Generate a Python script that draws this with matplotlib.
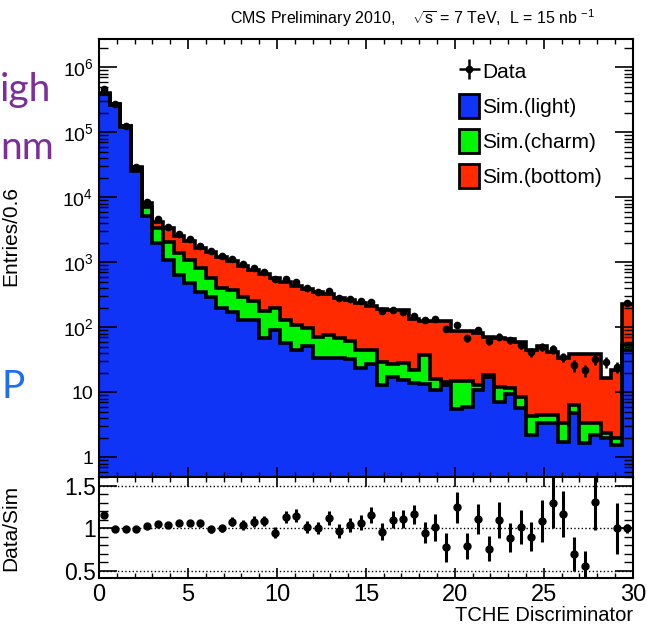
import numpy as np
import matplotlib
matplotlib.use("Agg")
import matplotlib.pyplot as plt
from matplotlib.patches import Patch
from matplotlib.ticker import FuncFormatter, MultipleLocator, LogLocator, NullFormatter

plt.rcParams['font.family'] = ['Liberation Sans', 'DejaVu Sans']
plt.rcParams['mathtext.fontset'] = 'custom'
plt.rcParams['mathtext.rm'] = 'Liberation Sans'
plt.rcParams['mathtext.it'] = 'Liberation Sans'

# 50 bins of width 0.6 from 0 to 30
edges = np.linspace(0, 30, 51)
centers = 0.5 * (edges[:-1] + edges[1:])

light = [3.85e5, 2.62e5, 1.2e5, 2.56e4, 5200, 1960, 1080, 640, 478, 355,
         297, 201, 170, 130, 130, 68, 92, 57, 45, 51,
         34, 34, 34, 32, 24, 27, 13, 17, 15.5, 14,
         13.5, 11, 13, 5.5, 6, 11, 17, 7, 9.5, 5.7,
         2.2, 3.4, 3.4, 1.7, 4.8, 1.66, 2.2, 2.0, 1.57, 45]
charm = [8e3, 6e3, 4e3, 2300, 1950, 1380, 1000, 740, 612, 456,
         272, 199, 207, 167, 125, 111, 105, 73, 64, 46,
         38, 41, 34, 30, 21, 17, 16, 10, 12.5, 8,
         24.5, 5, 1.5, 9.5, 9, 2, 1.5, 5, 2, 2.9,
         2.1, 1.1, 1.0, 1.7, 1.6, 1.74, 1.2, 0.4, 0.43, 9]
bottom = [3e3, 2e3, 1e3, 1100, 950, 880, 1260, 1190, 1040, 869,
          891, 820, 673, 593, 509, 477, 385, 364, 330, 293,
          283, 249, 219, 200, 190, 172, 161, 159, 154, 110,
          88, 110, 108.5, 73, 73, 70, 52.5, 56, 54.5, 51.4,
          39.7, 47.5, 37.6, 30.6, 32.6, 35.6, 35.6, 14.2, 20, 173]
data = [4.6e5, 2.7e5, 1.27e5, 2.95e4, 8.4e3, 4600, 3550, 2700, 2270, 1790,
        1470, 1240, 1120, 925, 825, 715, 553, 562, 505, 398,
        355, 363, 278, 272, 250, 245, 181, 186, 171, 147,
        130, 135, 95, 107, 68, 92, 61, 72, 64, 54,
        41, 50, 46, 35, 26, 22, 32, 29, 24.5, 235]
ratio = [1.157, 0.988, 0.995, 0.99, 1.027, 1.047, 1.04, 1.06, 1.06, 1.06,
         0.99, 1.0, 1.08, 1.04, 1.08, 1.09, 0.95, 1.137, 1.15, 1.02,
         1.0, 1.12, 0.97, 1.04, 1.065, 1.157, 0.96, 1.10, 1.11, 1.165,
         0.95, 1.01, 0.776, 1.248, 0.79, 1.11, 0.76, 1.10, 0.89, 1.02,
         0.90, 1.09, 1.30, 1.17, 0.70, 0.555, 1.31, np.nan, 1.0, 1.0]
ratio_err = [0.004, 0.004, 0.005, 0.01, 0.015, 0.02, 0.025, 0.03, 0.035, 0.04,
             0.04, 0.045, 0.05, 0.055, 0.06, 0.06, 0.065, 0.07, 0.08, 0.07,
             0.07, 0.08, 0.08, 0.08, 0.09, 0.1, 0.1, 0.1, 0.11, 0.11,
             0.12, 0.16, 0.17, 0.18, 0.15, 0.18, 0.15, 0.21, 0.17, 0.2,
             0.17, 0.25, 0.3, 0.27, 0.2, 0.18, 0.33, 0.0, 0.3, 0.05]

light = np.array(light)
charm = np.array(charm)
bottom = np.array(bottom)
data = np.array(data)
lc = light + charm
total = lc + bottom

c_blue = '#1034f5'
c_green = '#00f500'
c_red = '#ff2a00'

fig = plt.figure(figsize=(6.47, 6.33), dpi=100)
ax = fig.add_axes([0.153, 0.2457, 0.825, 0.6927])
axr = fig.add_axes([0.153, 0.0864, 0.825, 0.1593])

# stacked histograms
ax.stairs(light, edges, baseline=1e-3, fill=True, color=c_blue, lw=0)
ax.stairs(lc, edges, baseline=light, fill=True, color=c_green, lw=0)
ax.stairs(total, edges, baseline=lc, fill=True, color=c_red, lw=0)
for h in (light, lc, total):
    ax.stairs(h, edges, baseline=None, color='black', lw=2.6)

ax.errorbar(centers, data, yerr=np.sqrt(data), xerr=0.15, fmt='o', color='black',
            ms=4.5, elinewidth=1.8, capsize=0, label='Data', zorder=5)

ax.set_yscale('log')
ax.set_xlim(0, 30)
ax.set_ylim(0.49, 2.72e6)

def log_fmt(v, pos):
    if abs(v - 1) < 1e-6:
        return '1'
    if abs(v - 10) < 1e-5:
        return '10'
    return r'$10^{%d}$' % int(round(np.log10(v)))

ax.yaxis.set_major_locator(LogLocator(base=10, numticks=10))
ax.yaxis.set_minor_locator(LogLocator(base=10, subs=np.arange(2, 10), numticks=10))
ax.yaxis.set_major_formatter(FuncFormatter(log_fmt))
ax.yaxis.set_minor_formatter(NullFormatter())
ax.xaxis.set_major_locator(MultipleLocator(5))
ax.xaxis.set_minor_locator(MultipleLocator(1))
ax.tick_params(axis='x', which='both', direction='in', top=True, bottom=True, labelbottom=False)
ax.tick_params(axis='x', which='major', length=7, width=1.2)
ax.tick_params(axis='x', which='minor', length=3.6, width=1.0)
ax.tick_params(axis='y', which='both', direction='in', left=True, right=True, labelsize=14, pad=4)
ax.tick_params(axis='y', which='major', length=13, width=1.2)
ax.tick_params(axis='y', which='minor', length=6.5, width=1.0)
for s in ax.spines.values():
    s.set_linewidth(1.5)

ax.set_ylabel('Entries/0.6', fontsize=15)
ax.yaxis.set_label_coords(-0.148, 0.55)

handles = [
    ax.get_legend_handles_labels()[0][0],
    Patch(facecolor=c_blue, edgecolor='black', lw=2),
    Patch(facecolor=c_green, edgecolor='black', lw=2),
    Patch(facecolor=c_red, edgecolor='black', lw=2),
]
labels = ['Data', 'Sim.(light)', 'Sim.(charm)', 'Sim.(bottom)']
fig.legend(handles, labels, loc='upper left', bbox_to_anchor=(0.697, 0.919),
           frameon=False, fontsize=15, handlelength=0.95, handleheight=1.35,
           handletextpad=0.15, labelspacing=0.55, borderaxespad=0)

fig.text(0.637, 0.972, r'CMS Preliminary 2010,    $\sqrt{s}$ = 7 TeV,  L = 15 nb $^{-1}$',
         ha='center', va='center', fontsize=11.5)

# ratio panel
for yv in (0.5, 1.0, 1.5):
    axr.axhline(yv, color='black', ls=':', lw=1.0)
axr.errorbar(centers, ratio, yerr=ratio_err, fmt='o', color='black', ms=5,
             elinewidth=2.2, capsize=0, zorder=5)
axr.set_xlim(0, 30)
axr.set_ylim(0.41, 1.60)
axr.yaxis.set_major_locator(MultipleLocator(0.5))
axr.yaxis.set_minor_locator(MultipleLocator(0.1))
axr.yaxis.set_major_formatter(FuncFormatter(lambda v, p: '%g' % v))
axr.xaxis.set_major_locator(MultipleLocator(5))
axr.xaxis.set_minor_locator(MultipleLocator(1))
axr.tick_params(axis='both', which='both', direction='in', top=True, right=True)
axr.tick_params(axis='y', which='major', length=13, width=1.2, labelsize=16.5, pad=2)
axr.tick_params(axis='y', which='minor', length=6.5, width=1.0)
axr.tick_params(axis='x', which='major', length=7, width=1.2, labelsize=17, pad=4)
axr.tick_params(axis='x', which='minor', length=3.6, width=1.0)
for s in axr.spines.values():
    s.set_linewidth(1.5)
axr.set_ylabel('Data/Sim', fontsize=15)
axr.yaxis.set_label_coords(-0.148, 0.5)
axr.set_xlabel('TCHE Discriminator', fontsize=14.5, ha='right', x=1.0, labelpad=0)

# slide fragments left of the chart
fig.text(0.0, 0.858, 'igh', color='#7d2d9c', fontsize=28, family='Lato', ha='left', va='center')
fig.text(0.0, 0.766, 'nm', color='#7d2d9c', fontsize=28, family='Lato', ha='left', va='center')
fig.text(0.002, 0.389, 'P', color='#1e6ff0', fontsize=28, family='Lato', ha='left', va='center')

fig.savefig('out.png', dpi=100)
